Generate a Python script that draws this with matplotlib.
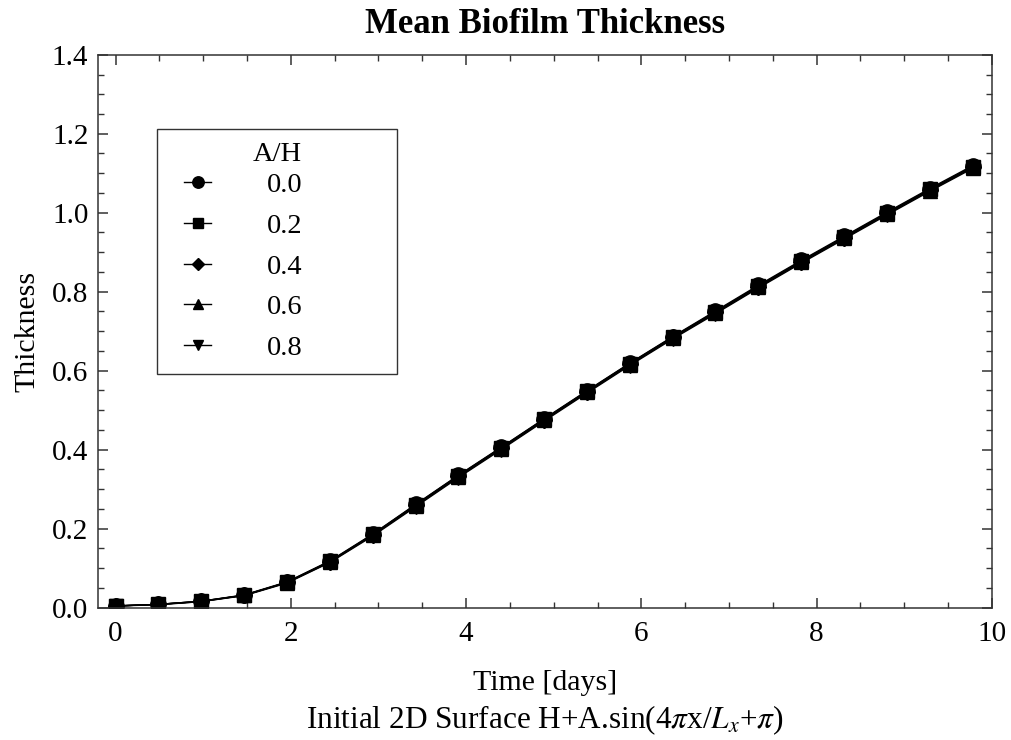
import numpy as np
import matplotlib.pyplot as plt
from matplotlib.ticker import MultipleLocator
from matplotlib.legend_handler import HandlerLine2D
from matplotlib.lines import Line2D

plt.rcParams['font.family'] = ['Liberation Serif', 'DejaVu Serif']
plt.rcParams['mathtext.fontset'] = 'stix'

# time samples (days)
time = [0.0, 0.489, 0.978, 1.467, 1.956, 2.445, 2.934, 3.423, 3.912, 4.401,
        4.89, 5.379, 5.868, 6.357, 6.846, 7.335, 7.824, 8.313, 8.802, 9.291, 9.78]

# mean thickness for each A/H
thick_00 = [0.004, 0.008, 0.016, 0.032, 0.065, 0.118, 0.186, 0.261, 0.335, 0.406,
            0.478, 0.549, 0.619, 0.686, 0.751, 0.816, 0.879, 0.940, 1.001, 1.061, 1.119]
thick_02 = [0.004, 0.008, 0.016, 0.031, 0.064, 0.117, 0.185, 0.260, 0.334, 0.405,
            0.477, 0.548, 0.618, 0.685, 0.749, 0.814, 0.877, 0.938, 0.999, 1.059, 1.117]
thick_04 = [0.004, 0.008, 0.016, 0.031, 0.064, 0.116, 0.184, 0.259, 0.333, 0.404,
            0.476, 0.547, 0.617, 0.684, 0.748, 0.813, 0.876, 0.937, 0.998, 1.058, 1.116]
thick_06 = [0.004, 0.008, 0.015, 0.031, 0.063, 0.115, 0.183, 0.257, 0.331, 0.402,
            0.474, 0.545, 0.615, 0.682, 0.746, 0.811, 0.874, 0.935, 0.996, 1.056, 1.114]
thick_08 = [0.004, 0.007, 0.015, 0.030, 0.062, 0.114, 0.181, 0.255, 0.329, 0.400,
            0.472, 0.543, 0.613, 0.680, 0.744, 0.809, 0.872, 0.933, 0.994, 1.054, 1.112]

labels = ['0.0', '0.2', '0.4', '0.6', '0.8']
markers = ['o', 's', 'D', '^', 'v']
msizes = [11, 10, 8, 10, 10]

fig = plt.figure(figsize=(10.11, 7.40), dpi=100)
ax = fig.add_axes([0.097, 0.179, 0.884, 0.747])

series = [thick_00, thick_02, thick_04, thick_06, thick_08]
for ys, lab, m, ms in zip(series, labels, markers, msizes):
    ax.plot(time, ys, color='black', lw=1.0, marker=m, markersize=ms,
            markerfacecolor='black', markeredgecolor='black', label=lab)

ax.set_xlim(-0.2, 10)
ax.set_ylim(0, 1.4)
ax.xaxis.set_major_locator(MultipleLocator(2))
ax.xaxis.set_minor_locator(MultipleLocator(0.5))
ax.yaxis.set_minor_locator(MultipleLocator(0.05))
ax.set_yticks(np.arange(0, 1.41, 0.2))
ax.set_yticklabels(['0.0', '0.2', '0.4', '0.6', '0.8', '1.0', '1.2', '1.4'])

ax.tick_params(which='both', direction='in', top=True, right=True,
               labelsize=21, color='#333333')
ax.tick_params(which='major', length=7, width=1.1)
ax.tick_params(axis='x', which='major', pad=10)
ax.tick_params(axis='y', which='major', pad=7)
ax.tick_params(which='minor', length=4, width=1.0)
for s in ax.spines.values():
    s.set_color('#333333')
    s.set_linewidth(1.1)

ax.set_title('Mean Biofilm Thickness', fontsize=25, fontweight='bold', pad=16)
ax.set_ylabel('Thickness', fontsize=21.5, labelpad=8)
ax.set_xlabel('Time [days]', fontsize=21.5, labelpad=16)
fig.text(0.539, 0.027, r'Initial 2D Surface H+A.sin(4$\pi$x/$L_x$+$\pi$)',
         fontsize=22.5, ha='center', va='center')

leg = ax.legend(title='A/H', loc='upper left',
                bbox_to_anchor=(0.066, 0.866, 0.269, 0.0), mode='expand',
                borderaxespad=0, fontsize=20.5, title_fontsize=20.5, frameon=True,
                fancybox=False, edgecolor='black', markerscale=0.75,
                handlelength=1.45, handletextpad=1.95, labelspacing=0.52,
                borderpad=0.45,
                handler_map={Line2D: HandlerLine2D(xpad=0.5)})
leg.get_frame().set_linewidth(1.0)
leg._legend_box.sep = 4

fig.savefig('out.png', dpi=100)
